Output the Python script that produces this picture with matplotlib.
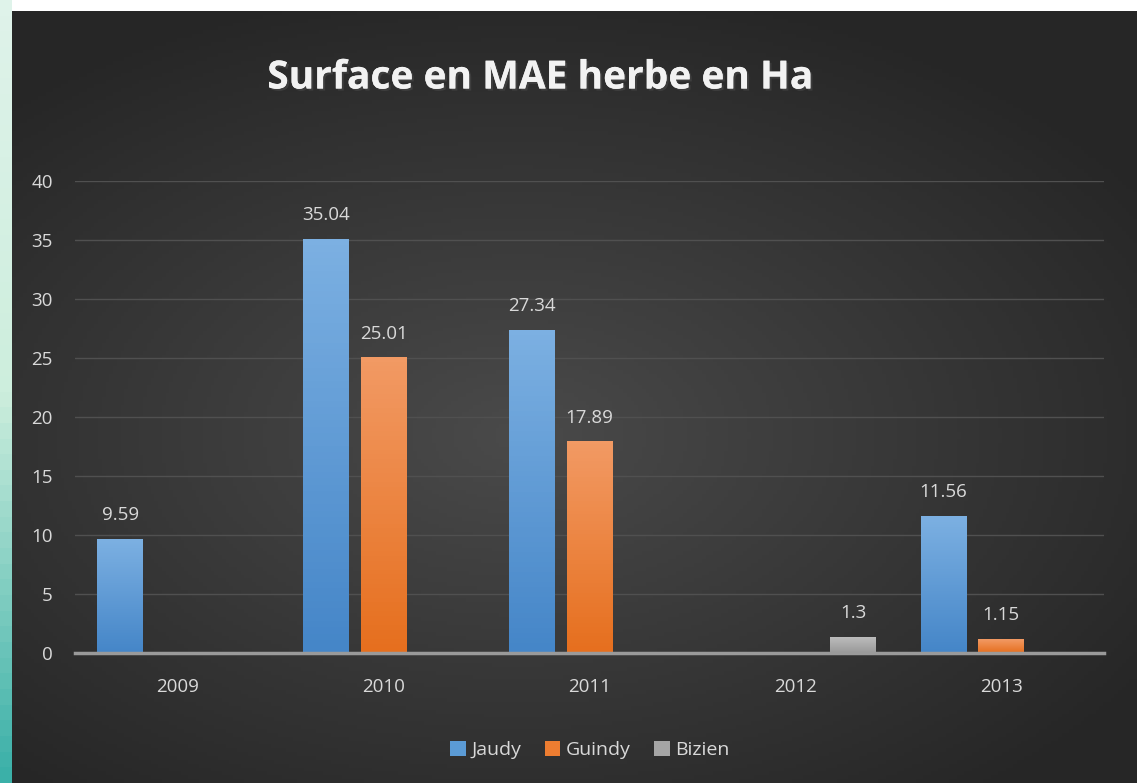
import numpy as np
import matplotlib.pyplot as plt
from matplotlib.colors import LinearSegmentedColormap
import matplotlib.patheffects as pe

# Data
years = ['2009', '2010', '2011', '2012', '2013']
jaudy = [9.59, 35.04, 27.34, 0, 11.56]
guindy = [0, 25.01, 17.89, 0, 1.15]
bizien = [0, 0, 0, 1.3, 0]
series = [('Jaudy', jaudy, '#5b9bd5', '#7cb0e2', '#4586c8'),
          ('Guindy', guindy, '#ed7d31', '#f29a64', '#e66f1e'),
          ('Bizien', bizien, '#a5a5a5', '#bcbcbc', '#999999')]

W, H = 1137, 783
fig = plt.figure(figsize=(W / 100, H / 100), dpi=100)
fig.patch.set_facecolor('#ffffff')

# left decorative strip
strip = fig.add_axes([0, 0, 12 / W, 1])
strip.imshow(np.linspace(0, 1, 50).reshape(-1, 1), aspect='auto',
             cmap=LinearSegmentedColormap.from_list('s', ['#3bb0a8', '#cdeedd', '#dff3ea']),
             extent=[0, 1, 0, 1], origin='lower')
strip.axis('off')

# dark panel with soft radial gradient
bg = fig.add_axes([12 / W, 0, 1 - 12 / W, 1 - 11 / H])
xx, yy = np.meshgrid(np.linspace(0, 1, 300), np.linspace(0, 1, 200))
d = np.sqrt(((xx - 0.45) / 0.9) ** 2 + ((yy - 0.45) / 0.8) ** 2)
bg.imshow(d, aspect='auto', extent=[0, 1, 0, 1], origin='lower',
          cmap=LinearSegmentedColormap.from_list('b', ['#4a4a4a', '#383838', '#262626']),
          vmin=0, vmax=0.75)
bg.axis('off')

ax = fig.add_axes([75 / W, (H - 653) / H, 1029 / W, 472 / H])
ax.patch.set_alpha(0)

x = np.arange(len(years))
width = 0.223
offset = 0.28
for i, (name, vals, col, top, bot) in enumerate(series):
    bars = ax.bar(x + (i - 1) * offset, vals, width, color=col, label=name, zorder=3)
    grad = LinearSegmentedColormap.from_list(name, [bot, top])
    for b, v in zip(bars, vals):
        if v <= 0:
            continue
        bx, by = b.get_x(), b.get_y()
        ax.imshow(np.linspace(0, 1, 64).reshape(-1, 1), cmap=grad, aspect='auto',
                  extent=[bx, bx + b.get_width(), by, by + b.get_height()],
                  origin='lower', zorder=4)
        ax.text(bx + b.get_width() / 2, v + 1.3, f'{v:g}', ha='center', va='bottom',
                color='#d9d9d9', fontsize=13.5, family='Open Sans', zorder=5)

ax.set_xlim(-0.5, 4.5)
ax.set_ylim(0, 40)
ax.set_yticks(range(0, 41, 5))
ax.set_xticks(x)
ax.set_xticklabels(years)
ax.tick_params(axis='both', length=0, colors='#d9d9d9', labelsize=13.5)
ax.tick_params(axis='x', pad=18)
ax.tick_params(axis='y', pad=16)
for lab in ax.get_xticklabels() + ax.get_yticklabels():
    lab.set_family('Open Sans')
ax.grid(axis='y', color='#505050', linewidth=1, zorder=0)
for s in ['top', 'right', 'left']:
    ax.spines[s].set_visible(False)
ax.spines['bottom'].set_color('#9a9a9a')
ax.spines['bottom'].set_linewidth(2.5)
ax.spines['bottom'].set_zorder(6)

fig.text(540 / W, 1 - 78 / H, 'Surface en MAE herbe en Ha', ha='center', va='center',
         color='#f2f2f2', fontsize=28, fontweight='bold', family='Open Sans',
         path_effects=[pe.withSimplePatchShadow(offset=(1.5, -1.5), alpha=0.6), pe.Normal()])

leg = fig.legend(loc='center', bbox_to_anchor=(590 / W, 1 - 750 / H), ncol=3, frameon=False,
                 handlelength=0.8, handleheight=0.8, handletextpad=0.3, columnspacing=1.2,
                 prop={'family': 'Open Sans', 'size': 14})
for t in leg.get_texts():
    t.set_color('#d9d9d9')

fig.savefig('out.png', dpi=100)
